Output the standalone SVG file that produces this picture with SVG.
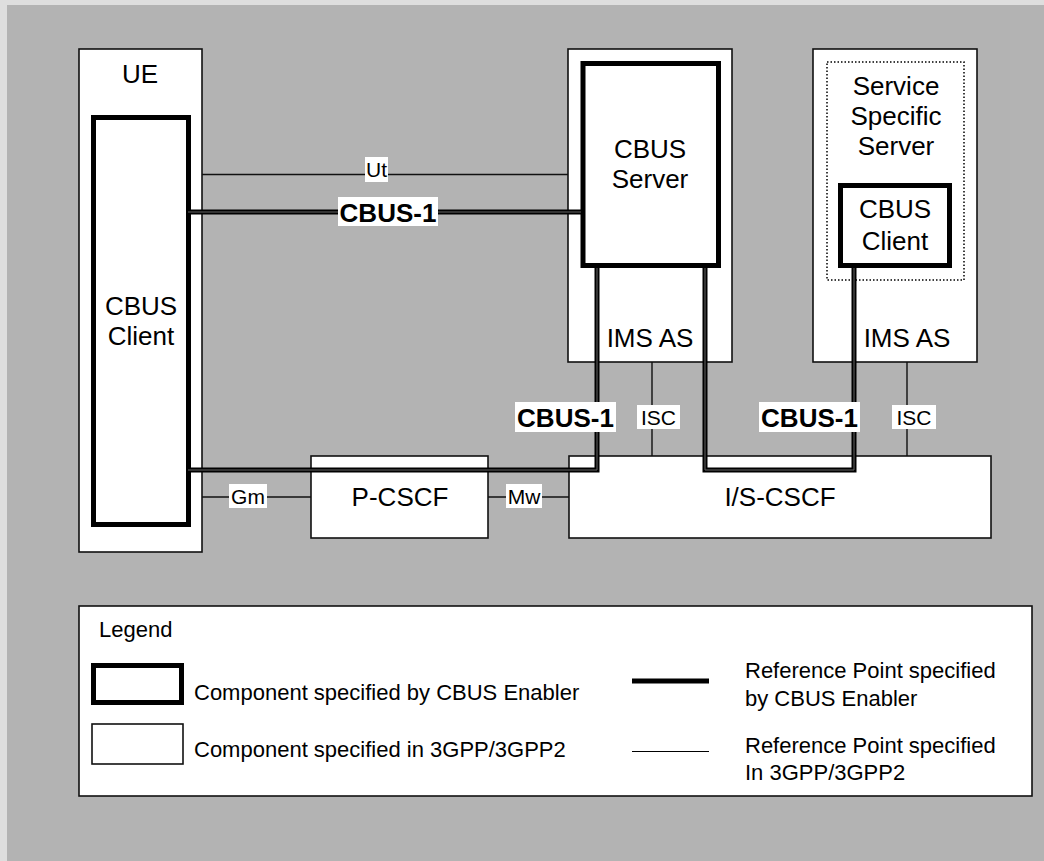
<svg xmlns="http://www.w3.org/2000/svg" width="1044" height="861" viewBox="0 0 1044 861">
<style>
text{font-family:"Liberation Sans",Arial,sans-serif;fill:#000}
.big{font-size:26px;text-anchor:middle}
.bold{font-size:26px;font-weight:bold;text-anchor:middle}
.lbl{font-size:21px;text-anchor:middle}
.leg{font-size:22px}
.box{fill:#fff;stroke:#111;stroke-width:1.6}
.thick{fill:#fff;stroke:#000;stroke-width:5}
.thin{fill:none;stroke:#111;stroke-width:1.4}
.cb{fill:none;stroke:#000;stroke-width:5}
.cbi{fill:none;stroke:#666;stroke-width:1}
.bg{fill:#fff}
</style>
<rect x="0" y="0" width="1044" height="861" fill="#dedede"/>
<rect x="7" y="5" width="1037" height="856" fill="#b3b3b3"/>

<g id="ue">
<rect class="box" x="79" y="49" width="123" height="503"/>
<text class="big" x="140" y="83">UE</text>
</g>
<g id="ue-client">
<rect class="thick" x="93.5" y="117.5" width="95" height="407"/>
<text class="big" x="141" y="315">CBUS</text>
<text class="big" x="141" y="345">Client</text>
</g>
<g id="ims-as-1">
<rect class="box" x="568" y="49" width="164" height="313"/>
<text class="big" x="650" y="347">IMS AS</text>
</g>
<g id="cbus-server">
<rect class="thick" x="583" y="63.5" width="135.5" height="202"/>
<text class="big" x="650" y="158">CBUS</text>
<text class="big" x="650" y="188">Server</text>
</g>
<g id="ims-as-2">
<rect class="box" x="813" y="49" width="164" height="313"/>
<text class="big" x="907" y="347">IMS AS</text>
</g>
<g id="service-specific-server">
<rect x="827" y="62" width="137" height="218" fill="none" stroke="#000" stroke-width="1.5" stroke-dasharray="1.5 2"/>
<text class="big" x="896" y="95">Service</text>
<text class="big" x="896" y="125">Specific</text>
<text class="big" x="896" y="155">Server</text>
</g>
<g id="as-client">
<rect class="thick" x="840.5" y="185.5" width="109" height="80"/>
<text class="big" x="895" y="218">CBUS</text>
<text class="big" x="895" y="250">Client</text>
</g>
<g id="p-cscf">
<rect class="box" x="311" y="456" width="177" height="82"/>
<text class="big" x="400" y="506">P-CSCF</text>
</g>
<g id="is-cscf">
<rect class="box" x="569" y="456" width="422" height="82"/>
<text class="big" x="780" y="506">I/S-CSCF</text>
</g>

<g id="connectors">
<line class="thin" x1="202" y1="174.5" x2="568" y2="174.5" stroke-width="1"/>
<path class="cb" d="M188,212 H581"/>
<path class="cbi" d="M188,212 H581"/>
<path class="cb" d="M597,268 V470 H188"/>
<path class="cbi" d="M597,268 V470 H188"/>
<path class="cb" d="M705,268 V470 H854 V268"/>
<path class="cbi" d="M705,268 V470 H854 V268"/>
<line class="thin" x1="652" y1="362" x2="652" y2="456"/>
<line class="thin" x1="907" y1="362" x2="907" y2="456"/>
<line class="thin" x1="202" y1="497" x2="311" y2="497"/>
<line class="thin" x1="488" y1="497" x2="569" y2="497"/>

<rect class="bg" x="365" y="157" width="23" height="25"/>
<text class="lbl" x="376.5" y="177">Ut</text>
<rect class="bg" x="338" y="197" width="100" height="29"/>
<text class="bold" x="388" y="222">CBUS-1</text>
<rect class="bg" x="515" y="402" width="101" height="30"/>
<text class="bold" x="565.5" y="427">CBUS-1</text>
<rect class="bg" x="759" y="402" width="101" height="30"/>
<text class="bold" x="809.5" y="427">CBUS-1</text>
<rect class="bg" x="637" y="405" width="43" height="24"/>
<text class="lbl" x="658.5" y="425">ISC</text>
<rect class="bg" x="892" y="405" width="44" height="24"/>
<text class="lbl" x="914" y="425">ISC</text>
<rect class="bg" x="229" y="484" width="38" height="24"/>
<text class="lbl" x="248" y="504">Gm</text>
<rect class="bg" x="506" y="484" width="36" height="24"/>
<text class="lbl" x="524" y="504">Mw</text>
</g>

<g id="legend">
<rect class="box" x="79" y="606" width="953" height="190"/>
<text class="leg" x="99" y="637">Legend</text>
<rect class="thick" x="93.5" y="665.5" width="88" height="37"/>
<rect class="box" x="92" y="724" width="91" height="40"/>
<text class="leg" x="194" y="700">Component specified by CBUS Enabler</text>
<text class="leg" x="194" y="757">Component specified in 3GPP/3GPP2</text>
<line x1="632" y1="681" x2="709" y2="681" stroke="#000" stroke-width="5"/>
<line x1="632" y1="751.5" x2="709" y2="751.5" stroke="#000" stroke-width="1"/>
<text class="leg" x="745" y="678">Reference Point specified</text>
<text class="leg" x="745" y="706">by CBUS Enabler</text>
<text class="leg" x="745" y="753">Reference Point specified</text>
<text class="leg" x="745" y="780">In 3GPP/3GPP2</text>
</g>
</svg>
